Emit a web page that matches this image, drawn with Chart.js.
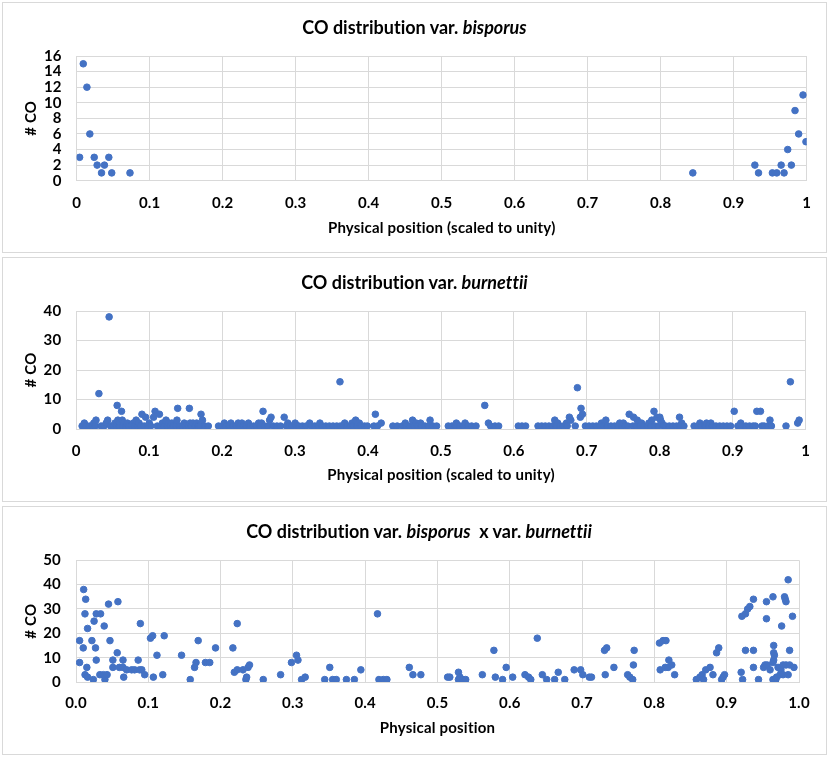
<!DOCTYPE html>
<html>
<head>
<meta charset="utf-8">
<script src="https://cdn.jsdelivr.net/npm/chart.js@4.4.0/dist/chart.umd.min.js"></script>
<style>
  body { margin:0; background:#fff; width:829px; height:758px; position:relative; overflow:hidden; font-family: Lato, "Open Sans", sans-serif; }
  .panel { position:absolute; left:2px; width:825px; border:1px solid #d9d9d9; box-sizing:border-box; background:#fff; }
  .panel canvas { position:absolute; left:0; top:0; }
  .ttl { position:absolute; left:0; width:100%; text-align:center; font-weight:bold; font-size:18px; line-height:22px; color:#000; z-index:2; white-space:pre; font-variant-ligatures:none; }
</style>
</head>
<body>
<div class="panel" style="top:2px;height:251px">
  <canvas id="c1" width="823" height="249"></canvas>
  <div class="ttl" style="top:12.7px">CO distribution var. <i>bisporus</i></div>
</div>
<div class="panel" style="top:257px;height:245px">
  <canvas id="c2" width="823" height="243"></canvas>
  <div class="ttl" style="top:12.7px">CO distribution var. <i>burnettii</i></div>
</div>
<div class="panel" style="top:506px;height:249px">
  <canvas id="c3" width="823" height="247"></canvas>
  <div class="ttl" style="top:12.7px;padding-left:9px;box-sizing:border-box">CO distribution var. <i>bisporus</i>  x var. <i>burnettii</i></div>
</div>
<script>
// var. bisporus
const bispX = [0.004, 0.009, 0.014, 0.018, 0.024, 0.028, 0.034, 0.038, 0.044, 0.048, 0.073,
  0.844, 0.929, 0.934, 0.953, 0.959, 0.965, 0.969, 0.974, 0.979, 0.984, 0.989, 0.995, 0.999]
const bispY = [3, 15, 12, 6, 3, 2, 1, 2, 3, 1, 1,
  1, 2, 1, 1, 1, 2, 1, 4, 2, 9, 6, 11, 5]

// var. burnettii
const burnX = [
  0.008, 0.011, 0.013, 0.018, 0.022, 0.024, 0.026, 0.027, 0.031, 0.034, 0.038, 0.041, 0.043, 0.045, 0.047,
  0.051, 0.053, 0.055, 0.056, 0.057, 0.059, 0.060, 0.062, 0.063, 0.064, 0.065, 0.068, 0.070, 0.072, 0.076,
  0.078, 0.080, 0.082, 0.084, 0.086, 0.088, 0.090, 0.093, 0.095, 0.098, 0.100, 0.102, 0.106, 0.108, 0.111,
  0.114, 0.116, 0.118, 0.120, 0.123, 0.125, 0.127, 0.129, 0.131, 0.133, 0.137, 0.138, 0.139, 0.142, 0.146,
  0.148, 0.150, 0.154, 0.155, 0.156, 0.158, 0.160, 0.163, 0.165, 0.167, 0.170, 0.171, 0.173, 0.176, 0.181,
  0.195, 0.200, 0.203, 0.205, 0.210, 0.212, 0.215, 0.219, 0.222, 0.224, 0.227, 0.229, 0.233, 0.236, 0.238,
  0.243, 0.247, 0.250, 0.252, 0.254, 0.256, 0.258, 0.263, 0.265, 0.267, 0.270, 0.275, 0.280, 0.285, 0.288,
  0.290, 0.292, 0.296, 0.300, 0.302, 0.305, 0.310, 0.315, 0.320, 0.322, 0.327, 0.332, 0.334, 0.337, 0.342,
  0.347, 0.352, 0.357, 0.3615, 0.362, 0.366, 0.368, 0.371, 0.376, 0.378, 0.380, 0.383, 0.385, 0.388, 0.390,
  0.395, 0.399,
  0.408, 0.410, 0.413, 0.418, 0.434, 0.440, 0.447, 0.451, 0.452, 0.457, 0.461, 0.463, 0.466, 0.468, 0.472,
  0.473, 0.478, 0.483, 0.485, 0.489, 0.494,
  0.510, 0.515, 0.520, 0.521, 0.526, 0.531, 0.533, 0.537, 0.542, 0.548, 0.560, 0.565, 0.568, 0.574, 0.579,
  0.606, 0.611, 0.616,
  0.633, 0.638, 0.643, 0.648, 0.653, 0.656, 0.658, 0.660, 0.663, 0.668, 0.672, 0.673, 0.676, 0.678, 0.684,
  0.687, 0.691, 0.692, 0.694,
  0.698, 0.703, 0.708, 0.713, 0.718, 0.720, 0.723, 0.726, 0.728, 0.733, 0.738, 0.743, 0.745, 0.748, 0.750,
  0.753, 0.756, 0.758, 0.763, 0.764, 0.768, 0.769, 0.773, 0.775, 0.778, 0.783, 0.785, 0.788, 0.789, 0.792,
  0.793, 0.796, 0.798, 0.800, 0.801, 0.803, 0.805, 0.808, 0.813, 0.818,
  0.823, 0.827, 0.828, 0.830, 0.833, 0.847, 0.852, 0.855, 0.857, 0.862, 0.864, 0.867, 0.870, 0.872, 0.877,
  0.882, 0.887, 0.892, 0.897, 0.902, 0.907, 0.911, 0.913, 0.918, 0.923, 0.928, 0.931, 0.933, 0.938, 0.940,
  0.943, 0.948, 0.951, 0.953, 0.973, 0.979, 0.989, 0.991]
const burnY = [
  1, 2, 1, 1, 1, 2, 1, 3, 12, 1, 1, 2, 3, 38, 1,
  1, 2, 1, 8, 3, 1, 2, 6, 3, 1, 2, 1, 2, 1, 1,
  2, 1, 3, 1, 2, 1, 5, 1, 4, 1, 2, 1, 4, 6, 1,
  5, 1, 2, 1, 3, 1, 2, 1, 2, 1, 1, 3, 7, 1, 1,
  2, 1, 1, 7, 2, 1, 2, 1, 2, 1, 1, 5, 3, 1, 1,
  1, 1, 2, 1, 1, 2, 1, 1, 2, 1, 2, 1, 1, 2, 1,
  1, 1, 2, 1, 2, 6, 1, 1, 3, 4, 1, 1, 1, 4, 1,
  2, 1, 1, 2, 1, 1, 1, 1, 2, 1, 1, 1, 2, 1, 1,
  1, 1, 1, 16, 1, 1, 2, 1, 1, 2, 1, 3, 1, 2, 1,
  1, 1,
  1, 5, 1, 2, 1, 1, 1, 2, 1, 1, 3, 1, 2, 1, 2,
  1, 1, 1, 3, 1, 1,
  1, 1, 1, 2, 1, 1, 2, 1, 1, 1, 8, 2, 1, 1, 1,
  1, 1, 1,
  1, 1, 1, 1, 1, 3, 1, 2, 1, 1, 2, 1, 4, 3, 1,
  14, 4, 7, 5,
  1, 1, 1, 1, 1, 2, 1, 3, 1, 1, 1, 1, 2, 1, 2,
  1, 1, 5, 1, 4, 1, 3, 1, 2, 1, 1, 2, 1, 3, 6,
  1, 4, 1, 4, 3, 2, 1, 1, 1, 1,
  1, 4, 1, 2, 1, 1, 1, 2, 1, 1, 2, 1, 2, 1, 1,
  1, 1, 1, 1, 6, 1, 2, 1, 1, 1, 1, 1, 6, 6, 1,
  1, 1, 3, 1, 1, 16, 2, 3]

// var. bisporus x var. burnettii
const crossX = [
  0.005, 0.005, 0.010, 0.0106, 0.0124, 0.0125, 0.0134, 0.015, 0.016, 0.016, 0.022, 0.024, 0.025, 0.027, 0.028,
  0.028, 0.033, 0.034, 0.038, 0.039, 0.040, 0.043, 0.045, 0.047, 0.051, 0.051, 0.057, 0.058, 0.060, 0.065,
  0.065, 0.066, 0.070, 0.077, 0.081, 0.086, 0.088, 0.089, 0.091, 0.095, 0.103, 0.106, 0.107, 0.112, 0.120,
  0.122, 0.146, 0.158, 0.164, 0.166, 0.169, 0.179, 0.185, 0.193, 0.217, 0.219, 0.223, 0.223, 0.231, 0.235,
  0.236, 0.238, 0.240, 0.259, 0.283, 0.298, 0.305, 0.307, 0.312, 0.317, 0.344, 0.351, 0.355, 0.360, 0.374,
  0.385, 0.394, 0.417, 0.419, 0.425, 0.430, 0.461, 0.466, 0.477, 0.514, 0.517, 0.529, 0.529, 0.531, 0.535,
  0.539, 0.562, 0.578, 0.580, 0.590, 0.595, 0.604, 0.621, 0.626, 0.629, 0.638, 0.645, 0.651, 0.662, 0.667,
  0.676, 0.689, 0.698, 0.701, 0.710, 0.713, 0.731, 0.732, 0.734, 0.744, 0.763, 0.766, 0.770, 0.771, 0.772,
  0.807, 0.808, 0.812, 0.815, 0.816, 0.819, 0.820, 0.824, 0.828, 0.858, 0.863, 0.866, 0.868, 0.871, 0.877,
  0.881, 0.886, 0.889, 0.893, 0.895, 0.897, 0.920, 0.921, 0.922, 0.926, 0.926, 0.929, 0.932, 0.937, 0.937,
  0.937, 0.944, 0.951, 0.953, 0.955, 0.955, 0.956, 0.960, 0.964, 0.964, 0.964, 0.965, 0.965, 0.965, 0.966,
  0.968, 0.969, 0.971, 0.974, 0.975, 0.976, 0.978, 0.978, 0.980, 0.981, 0.982, 0.982, 0.985, 0.985, 0.987,
  0.987, 0.991, 0.993]
const crossY = [
  17, 8, 14, 38, 28, 3, 34, 6, 22, 2, 17, 1, 25, 14, 28,
  9, 3, 28, 3, 23, 1, 3, 32, 17, 9, 6, 12, 33, 6, 9,
  6, 2, 5, 5, 5, 9, 5, 24, 5, 3, 18, 19, 2, 11, 3,
  19, 11, 1, 6, 8, 17, 8, 8, 14, 14, 4, 24, 5, 5, 1,
  2, 6, 7, 1, 3, 8, 11, 9, 1, 2, 1, 6, 1, 1, 1,
  1, 5, 28, 1, 1, 1, 6, 3, 3, 2, 2, 4, 1, 2, 1,
  1, 3, 13, 2, 1, 6, 2, 3, 2, 1, 18, 3, 1, 1, 4,
  1, 5, 5, 3, 2, 2, 13, 3, 14, 6, 3, 2, 1, 7, 13,
  16, 5, 17, 6, 17, 6, 9, 7, 3, 1, 2, 3, 1, 5, 6,
  3, 12, 14, 1, 2, 3, 4, 27, 1, 28, 13, 30, 31, 34, 13,
  6, 1, 6, 7, 33, 26, 7, 5, 35, 8, 1, 15, 12, 9, 11,
  1, 2, 6, 3, 5, 23, 7, 3, 35, 34, 33, 7, 42, 3, 13,
  7, 27, 6]

// axis ticks
const xTicks = [0, 0.1, 0.2, 0.3, 0.4, 0.5, 0.6, 0.7, 0.8, 0.9, 1]
const xLabels = ['0', '0.1', '0.2', '0.3', '0.4', '0.5', '0.6', '0.7', '0.8', '0.9', '1']
const xLabelsCross = ['0.0', '0.1', '0.2', '0.3', '0.4', '0.5', '0.6', '0.7', '0.8', '0.9', '1.0']
const yTicksBisp = [0, 2, 4, 6, 8, 10, 12, 14, 16]
const yTicksBurn = [0, 10, 20, 30, 40]
const yTicksCross = [0, 10, 20, 30, 40, 50]

const gridColor = '#d9d9d9'
const textColor = '#000'

// Lato has a "ti" ligature; a little letter spacing keeps canvas text unjoined
const noLigatures = {
  id: 'noLigatures',
  beforeDraw: chart => { chart.ctx.letterSpacing = '0.2px' }
}

const drawPanel = (id, xs, ys, xLab, yTicks, xTitle, box) => {
  const points = xs.map((x, i) => ({x: x, y: ys[i]}))
  return new Chart(document.getElementById(id), {
    type: 'scatter',
    data: {
      datasets: [{
        data: points,
        backgroundColor: '#4472c4',
        borderColor: '#4472c4',
        borderWidth: 1,
        pointRadius: 3.3,
        pointHoverRadius: 3.3
      }]
    },
    plugins: [noLigatures],
    options: {
      responsive: false,
      animation: false,
      layout: { padding: { left: 0, top: box.top, right: box.right, bottom: 0 } },
      plugins: { legend: { display: false }, tooltip: { enabled: false } },
      scales: {
        x: {
          type: 'linear',
          min: xTicks[0],
          max: xTicks[xTicks.length - 1],
          afterBuildTicks: s => { s.ticks = xTicks.map(v => ({value: v})) },
          afterFit: s => { s.height = box.xh },
          grid: { color: gridColor, lineWidth: 1, drawTicks: false },
          border: { color: gridColor },
          ticks: {
            padding: box.xpad,
            color: textColor,
            maxRotation: 0,
            autoSkip: false,
            font: { family: 'Lato', size: 15, weight: 'bold' },
            callback: (v, i) => xLab[i]
          },
          title: {
            display: true,
            text: xTitle,
            color: textColor,
            font: { family: 'Lato', size: 15, weight: 'bold' },
            padding: { top: 0, bottom: box.xtb }
          }
        },
        y: {
          min: yTicks[0],
          max: yTicks[yTicks.length - 1],
          afterBuildTicks: s => { s.ticks = yTicks.map(v => ({value: v})) },
          afterFit: s => { s.width = box.yw },
          grid: { color: gridColor, lineWidth: 1, drawTicks: false },
          border: { color: gridColor },
          ticks: {
            padding: 15,
            color: textColor,
            autoSkip: false,
            font: { family: 'Lato', size: 15, weight: 'bold' },
            callback: v => String(v)
          },
          title: {
            display: true,
            text: '# CO',
            color: textColor,
            font: { family: 'Lato', size: 15, weight: 'bold' },
            padding: { top: 19.5, bottom: 0 }
          }
        }
      }
    }
  })
}

drawPanel('c1', bispX, bispY, xLabels, yTicksBisp, 'Physical position (scaled to unity)',
  { top: 53, right: 19.3, xh: 71.3, xpad: 13, xtb: 15, yw: 73.7 })
drawPanel('c2', burnX, burnY, xLabels, yTicksBurn, 'Physical position (scaled to unity)',
  { top: 53, right: 20.3, xh: 72, xpad: 13.5, xtb: 16.7, yw: 73.3 })
drawPanel('c3', crossX, crossY, xLabelsCross, yTicksCross, 'Physical position',
  { top: 53.3, right: 27, xh: 72, xpad: 12, xtb: 16.4, yw: 73 })
</script>
</body>
</html>
